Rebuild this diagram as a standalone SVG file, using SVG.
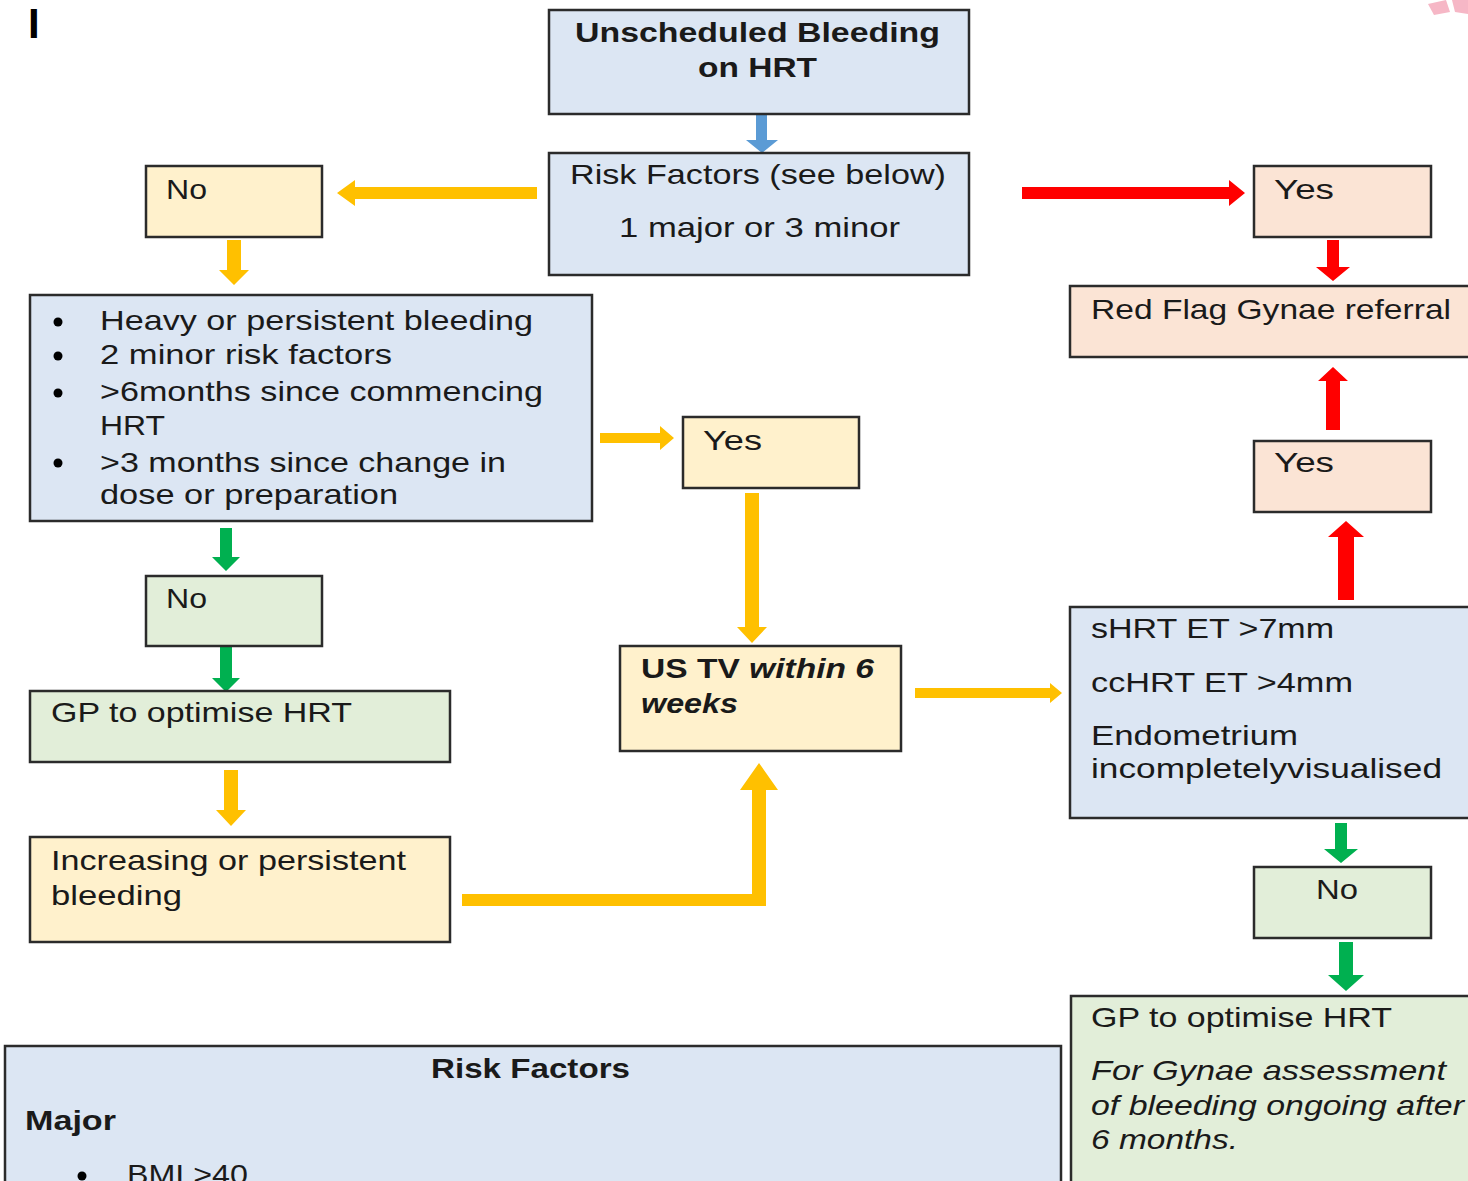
<svg xmlns="http://www.w3.org/2000/svg" width="1468" height="1181" viewBox="0 0 1468 1181">
<style>
.box{stroke:#2b2b2b;stroke-width:2.5}
.b{fill:#dce6f3}.y{fill:#fff1cc}.g{fill:#e2eed9}.p{fill:#fbe4d5}
text{font-family:"Liberation Sans",Arial,sans-serif;font-size:28px;fill:#1a1a1a}
.bd{font-weight:bold}
.it{font-style:italic}
.or{fill:#ffc000}.rd{fill:#ff0000}.gr{fill:#00b050}.bl{fill:#5b9bd5}
</style>
<rect width="1468" height="1181" fill="#ffffff"/>
<text x="28" y="38" style="font-size:42px;font-weight:bold;fill:#000">I</text>
<g id="decor" opacity="0.8">
<polygon points="1428,4 1446,0 1450,12 1434,15" fill="#f4a6b8"/>
<polygon points="1452,0 1468,0 1468,14 1455,12" fill="#f4a6b8"/>
</g>

<g id="connectors">
<polygon class="bl" points="756,114 767,114 767,140 778,140 762,153 746,140 756,140"/>
<polygon class="or" points="537,187 355,187 355,180 337,193 355,206 355,199 537,199"/>
<polygon class="or" points="227,240 241,240 241,270 249,270 234,285 219,270 227,270"/>
<polygon class="gr" points="220,528 232,528 232,557 240,557 226,571 212,557 220,557"/>
<polygon class="gr" points="220,646 232,646 232,678 240,678 226,692 212,678 220,678"/>
<polygon class="or" points="224,770 238,770 238,810 246,810 231,826 216,810 224,810"/>
<polygon class="or" points="462,894 752,894 752,790 740,790 759,763 778,790 766,790 766,906 462,906"/>
<polygon class="or" points="600,433 660,433 660,426 674,438 660,450 660,443 600,443"/>
<polygon class="or" points="745,493 759,493 759,627 767,627 752,643 737,627 745,627"/>
<polygon class="or" points="915,688 1050,688 1050,683 1062,693 1050,703 1050,698 915,698"/>
<polygon class="rd" points="1022,187 1229,187 1229,180 1245,193 1229,206 1229,199 1022,199"/>
<polygon class="rd" points="1327,240 1339,240 1339,267 1350,267 1333,281 1316,267 1327,267"/>
<polygon class="rd" points="1326,430 1340,430 1340,381 1348,381 1333,367 1318,381 1326,381"/>
<polygon class="rd" points="1338,600 1354,600 1354,537 1364,537 1346,521 1328,537 1338,537"/>
<polygon class="gr" points="1335,823 1347,823 1347,849 1358,849 1341,863 1324,849 1335,849"/>
<polygon class="gr" points="1339,942 1353,942 1353,975 1364,975 1346,991 1328,975 1339,975"/>
</g>

<g id="n-start">
<rect class="box b" x="549" y="10" width="420" height="104"/>
<text class="bd" x="575" y="42" textLength="365" lengthAdjust="spacingAndGlyphs">Unscheduled Bleeding</text>
<text class="bd" x="698" y="77" textLength="119" lengthAdjust="spacingAndGlyphs">on HRT</text>
</g>
<g id="n-risk">
<rect class="box b" x="549" y="153" width="420" height="122"/>
<text x="570" y="184" textLength="376" lengthAdjust="spacingAndGlyphs">Risk Factors (see below)</text>
<text x="619" y="237" textLength="281" lengthAdjust="spacingAndGlyphs">1 major or 3 minor</text>
</g>
<g id="n-no1">
<rect class="box y" x="146" y="166" width="176" height="71"/>
<text x="166" y="199" textLength="41" lengthAdjust="spacingAndGlyphs">No</text>
</g>
<g id="n-yes1">
<rect class="box p" x="1254" y="166" width="177" height="71"/>
<text x="1274" y="199" textLength="60" lengthAdjust="spacingAndGlyphs">Yes</text>
</g>
<g id="n-redflag">
<rect class="box p" x="1070" y="286" width="410" height="71"/>
<text x="1091" y="319" textLength="360" lengthAdjust="spacingAndGlyphs">Red Flag Gynae referral</text>
</g>
<g id="n-criteria">
<rect class="box b" x="30" y="295" width="562" height="226"/>
<g fill="#000"><circle cx="58" cy="322" r="4.5"/><circle cx="58" cy="356" r="4.5"/><circle cx="58" cy="393" r="4.5"/><circle cx="58" cy="463" r="4.5"/></g>
<text x="100" y="330" textLength="433" lengthAdjust="spacingAndGlyphs">Heavy or persistent bleeding</text>
<text x="100" y="364" textLength="292" lengthAdjust="spacingAndGlyphs">2 minor risk factors</text>
<text x="100" y="401" textLength="443" lengthAdjust="spacingAndGlyphs">&gt;6months since commencing</text>
<text x="100" y="435" textLength="65" lengthAdjust="spacingAndGlyphs">HRT</text>
<text x="100" y="472" textLength="406" lengthAdjust="spacingAndGlyphs">&gt;3 months since change in</text>
<text x="100" y="504" textLength="298" lengthAdjust="spacingAndGlyphs">dose or preparation</text>
</g>
<g id="n-yes2">
<rect class="box y" x="683" y="417" width="176" height="71"/>
<text x="703" y="450" textLength="59" lengthAdjust="spacingAndGlyphs">Yes</text>
</g>
<g id="n-yes3">
<rect class="box p" x="1254" y="441" width="177" height="71"/>
<text x="1274" y="472" textLength="60" lengthAdjust="spacingAndGlyphs">Yes</text>
</g>
<g id="n-no2">
<rect class="box g" x="146" y="576" width="176" height="70"/>
<text x="166" y="608" textLength="41" lengthAdjust="spacingAndGlyphs">No</text>
</g>
<g id="n-ustv">
<rect class="box y" x="620" y="646" width="281" height="105"/>
<text class="bd" x="641" y="678" textLength="233" lengthAdjust="spacingAndGlyphs">US TV <tspan class="it">within 6</tspan></text>
<text class="bd it" x="641" y="713" textLength="97" lengthAdjust="spacingAndGlyphs">weeks</text>
</g>
<g id="n-et">
<rect class="box b" x="1070" y="607" width="410" height="211"/>
<text x="1091" y="638" textLength="243" lengthAdjust="spacingAndGlyphs">sHRT ET &gt;7mm</text>
<text x="1091" y="692" textLength="262" lengthAdjust="spacingAndGlyphs">ccHRT ET &gt;4mm</text>
<text x="1091" y="745" textLength="207" lengthAdjust="spacingAndGlyphs">Endometrium</text>
<text x="1091" y="778" textLength="351" lengthAdjust="spacingAndGlyphs">incompletelyvisualised</text>
</g>
<g id="n-gp1">
<rect class="box g" x="30" y="691" width="420" height="71"/>
<text x="51" y="722" textLength="301" lengthAdjust="spacingAndGlyphs">GP to optimise HRT</text>
</g>
<g id="n-increasing">
<rect class="box y" x="30" y="837" width="420" height="105"/>
<text x="51" y="870" textLength="355" lengthAdjust="spacingAndGlyphs">Increasing or persistent</text>
<text x="51" y="905" textLength="131" lengthAdjust="spacingAndGlyphs">bleeding</text>
</g>
<g id="n-no3">
<rect class="box g" x="1254" y="867" width="177" height="71"/>
<text x="1316" y="899" textLength="42" lengthAdjust="spacingAndGlyphs">No</text>
</g>
<g id="n-gp2">
<rect class="box g" x="1071" y="996" width="410" height="200"/>
<text x="1091" y="1027" textLength="301" lengthAdjust="spacingAndGlyphs">GP to optimise HRT</text>
<text class="it" x="1091" y="1080" textLength="355" lengthAdjust="spacingAndGlyphs">For Gynae assessment</text>
<text class="it" x="1091" y="1115" textLength="373" lengthAdjust="spacingAndGlyphs">of bleeding ongoing after</text>
<text class="it" x="1091" y="1149" textLength="147" lengthAdjust="spacingAndGlyphs">6 months.</text>
</g>
<g id="n-riskfactors">
<rect class="box b" x="5" y="1046" width="1056" height="150"/>
<text class="bd" x="431" y="1078" textLength="199" lengthAdjust="spacingAndGlyphs">Risk Factors</text>
<text class="bd" x="25" y="1130" textLength="91" lengthAdjust="spacingAndGlyphs">Major</text>
<circle cx="82" cy="1176" r="4.5" fill="#000"/>
<text x="127" y="1184" textLength="121" lengthAdjust="spacingAndGlyphs">BMI &gt;40</text>
</g>
</svg>
